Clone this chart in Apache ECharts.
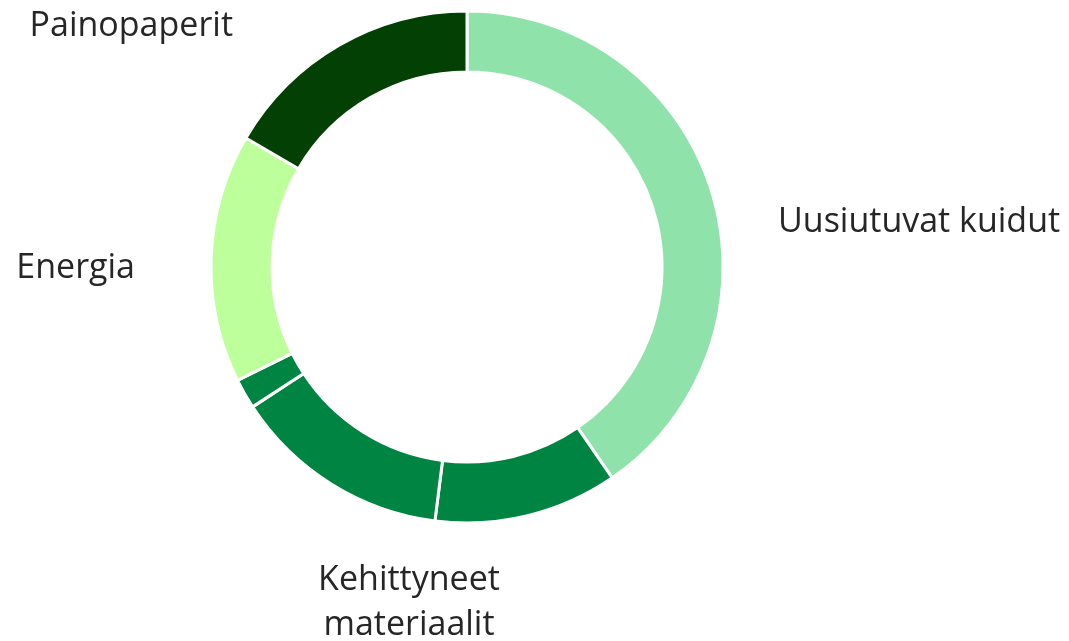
<!DOCTYPE html>
<html>
<head>
<meta charset="utf-8">
<script src="https://cdn.jsdelivr.net/npm/echarts@6/dist/echarts.min.js"></script>
<style>
  html, body { margin: 0; padding: 0; background: #fff; }
  #chart { width: 1069px; height: 641px; }
</style>
</head>
<body>
<div id="chart"></div>
<script>
// slices clockwise from 12 o'clock (share of the ring, %)
const sliceNames = [
  "Uusiutuvat kuidut",
  "Kehittyneet materiaalit 1",
  "Kehittyneet materiaalit 2",
  "Kehittyneet materiaalit 3",
  "Energia",
  "Painopaperit",
];
const sliceValues = [40.4, 11.6, 13.8, 1.9, 15.7, 16.6];
const sliceLabels = ["Uusiutuvat kuidut", "", "Kehittyneet\nmateriaalit", "", "Energia", "Painopaperit"];
const sliceColors = ["#90e2ab", "#008442", "#008442", "#008442", "#bdff9b", "#034003"];

// where each visible label sits (x, y, align)
const labelSpots = {
  0: [778, 222, "left"],
  2: [409, 603, "center"],
  4: [135, 268, "right"],
  5: [233, 26, "right"],
};

const chart = echarts.init(document.getElementById("chart"));

const pieData = sliceNames.map((name, i) => ({
  name: name,
  value: sliceValues[i],
  itemStyle: { color: sliceColors[i] },
  label: {
    show: sliceLabels[i] !== "",
    formatter: sliceLabels[i],
  },
}));

const option = {
  animation: false,
  series: [
    {
      type: "pie",
      center: [467, 267],
      radius: [195, 256],
      startAngle: 90,
      clockwise: true,
      avoidLabelOverlap: false,
      itemStyle: {
        borderColor: "#ffffff",
        borderWidth: 3,
      },
      label: {
        position: "outside",
        fontFamily: "Open Sans",
        fontSize: 34,
        lineHeight: 45,
        color: "#262626",
      },
      labelLine: { show: false },
      labelLayout: (params) => {
        const spot = labelSpots[params.dataIndex];
        if (!spot) return {};
        return {
          x: spot[0],
          y: spot[1],
          align: spot[2],
          verticalAlign: "middle",
        };
      },
      data: pieData,
    },
  ],
};

chart.setOption(option);
</script>
</body>
</html>
